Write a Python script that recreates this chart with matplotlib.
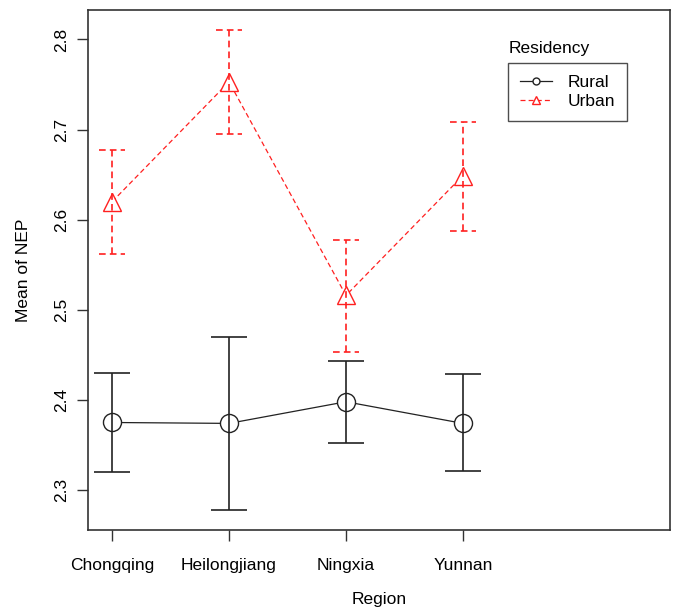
import matplotlib
matplotlib.use("Agg")
import matplotlib.pyplot as plt
import numpy as np

plt.rcParams["font.family"] = ["Liberation Sans", "DejaVu Sans"]

regions = ["Chongqing", "Heilongjiang", "Ningxia", "Yunnan"]
rural_mean = [2.375, 2.374, 2.398, 2.374]
rural_lo = [2.320, 2.278, 2.352, 2.321]
rural_hi = [2.430, 2.470, 2.443, 2.429]
urban_mean = [2.620, 2.753, 2.516, 2.649]
urban_lo = [2.562, 2.695, 2.453, 2.588]
urban_hi = [2.677, 2.810, 2.577, 2.708]

x = np.arange(1, len(regions) + 1)
dash = (0, (4, 2.5))
FS = 12.5

fig = plt.figure(figsize=(6.78, 6.10), dpi=100)
ax = fig.add_axes([0.13, 0.131, 0.858, 0.853])


def draw_group(mean, lo, hi, color, ls, marker):
    mean = np.array(mean)
    yerr = [mean - np.array(lo), np.array(hi) - mean]
    ax.plot(x, mean, color=color, ls=ls, lw=0.9, marker=marker, ms=13,
            mfc="white", mec=color, mew=1.0, zorder=2)
    eb = ax.errorbar(x, mean, yerr=yerr, fmt="none", ecolor=color, elinewidth=1.2,
                     capsize=13, capthick=1.2, zorder=3)
    for lc in eb.lines[2]:
        lc.set_linestyle(ls)
    if ls != "-":
        for cap in eb.lines[1]:
            cap.set_marker("None")
        # dashed caps as short segments
        for xi, lo_i, hi_i in zip(x, lo, hi):
            for yv in (lo_i, hi_i):
                ax.plot([xi - 0.11, xi + 0.11], [yv, yv], color=color, ls=ls,
                        lw=1.2, zorder=3)


draw_group(rural_mean, rural_lo, rural_hi, "#222222", "-", "o")
draw_group(urban_mean, urban_lo, urban_hi, "#ff2020", dash, "^")

ax.set_xlim(0.795, 5.77)
ax.set_ylim(2.2556, 2.833)
ax.set_xticks(x)
ax.set_xticklabels(regions, fontsize=FS)
ax.set_yticks([2.3, 2.4, 2.5, 2.6, 2.7, 2.8])
ax.set_yticklabels(["2.3", "2.4", "2.5", "2.6", "2.7", "2.8"], rotation=90,
                   va="center", fontsize=FS)
ax.tick_params(axis="both", length=8, width=1, color="#333333")
ax.tick_params(axis="y", pad=6)
ax.tick_params(axis="x", pad=12)
for s in ax.spines.values():
    s.set_linewidth(1.2)
    s.set_color("#333333")
ax.set_xlabel("Region", fontsize=FS, labelpad=14)
ax.set_ylabel("Mean of NEP", fontsize=FS, labelpad=16)

h = [plt.Line2D([], [], color="#222222", lw=0.9, marker="o", ms=5, mfc="white", mec="#222222"),
     plt.Line2D([], [], color="#ff2020", lw=0.9, ls=dash, marker="^", ms=6,
                mfc="white", mec="#ff2020")]
leg = ax.legend(h, ["Rural", "Urban"], loc="upper left", bbox_to_anchor=(0.722, 0.898),
                fontsize=FS, frameon=True, fancybox=False, edgecolor="#222222",
                handlelength=1.8, handletextpad=0.9, borderpad=0.7, labelspacing=0.2,
                borderaxespad=0)
leg.get_frame().set_linewidth(1.0)
ax.text(0.722, 0.912, "Residency", transform=ax.transAxes, fontsize=FS, va="bottom")

fig.savefig("out.png", dpi=100)
